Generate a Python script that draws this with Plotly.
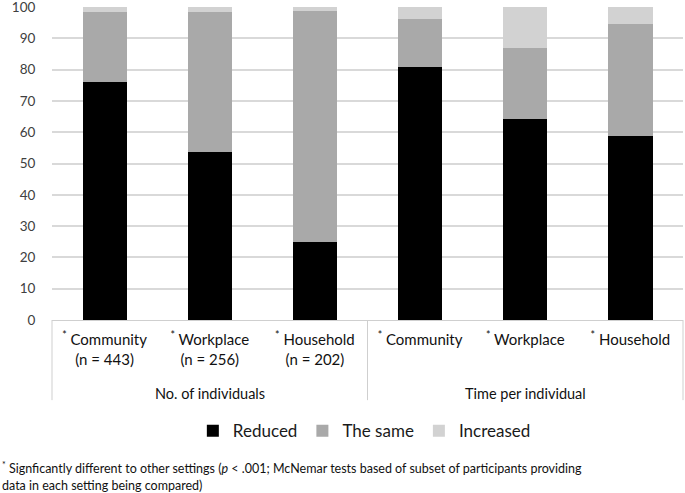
import plotly.graph_objects as go

cat_ids = ["c1", "w1", "h1", "c2", "w2", "h2"]
tick_labels = [
    "<sup>*</sup> Community<br>(n = 443)",
    "<sup>*</sup> Workplace<br>(n = 256)",
    "<sup>*</sup> Household<br>(n = 202)",
    "<sup>*</sup> Community",
    "<sup>*</sup> Workplace",
    "<sup>*</sup> Household",
]
group_labels = ["No. of individuals", "Time per individual"]
group_centers = ["w1", "w2"]
y_ticks = [0, 10, 20, 30, 40, 50, 60, 70, 80, 90, 100]

reduced = [76, 53.6, 25, 80.7, 64.2, 58.8]
the_same = [22.5, 44.8, 73.8, 15.6, 22.8, 35.8]
increased = [1.5, 1.6, 1.2, 3.7, 13.0, 5.4]

FONT = "Lato, 'Open Sans', sans-serif"

fig = go.Figure()
for name, vals, col in [("Reduced", reduced, "#000000"),
                        ("The same", the_same, "#a9a9a9"),
                        ("Increased", increased, "#d2d2d2")]:
    fig.add_trace(go.Bar(x=cat_ids, y=vals, name=name, marker_color=col,
                         marker_line_width=0))

fig.update_layout(
    barmode="stack",
    bargap=0.58,
    width=685, height=493,
    margin=dict(l=52, r=2, t=7, b=173),
    plot_bgcolor="white", paper_bgcolor="white",
    font=dict(family=FONT, size=14, color="#404040"),
    showlegend=True,
    legend=dict(orientation="h", x=0.495, xanchor="center", y=-0.355, yanchor="middle",
                font=dict(size=17, color="#1a1a1a"), traceorder="normal",
                itemwidth=30),
)
fig.update_xaxes(
    type="category", categoryorder="array", categoryarray=cat_ids,
    tickvals=cat_ids, ticktext=tick_labels,
    showline=True, linecolor="#cfcfcf", linewidth=1,
    ticks="outside", ticklen=6, tickcolor="rgba(0,0,0,0)",
    tickfont=dict(size=15, color="#111111"),
    showgrid=False,
)
fig.update_yaxes(
    range=[0, 100], tickvals=y_ticks, showgrid=True,
    gridcolor="#d9d9d9", gridwidth=1.5,
    zeroline=False, ticks="outside", ticklen=13, tickcolor="rgba(0,0,0,0)",
    tickfont=dict(size=13.5, color="#404040"),
    ticklabeloverflow="allow", automargin=False,
)

# group divider lines (left edge, between groups, right edge)
for xv, xr in [(0, "paper"), (2.5, "x"), (1, "paper")]:
    fig.add_shape(type="line", xref=xr, yref="paper", x0=xv, x1=xv, y0=0, y1=-0.256,
                  line=dict(color="#cfcfcf", width=1))

for lab, c in zip(group_labels, group_centers):
    fig.add_annotation(x=c, xref="x", y=-0.235, yref="paper", text=lab, showarrow=False,
                       xanchor="center", yanchor="middle",
                       font=dict(size=14.5, color="#111111"))

fig.add_annotation(
    x=-0.0825, xref="paper", y=-0.498, yref="paper", xanchor="left", yanchor="middle",
    align="left", showarrow=False,
    text="<sup>*</sup> Signficantly different to other settings (<i>p</i> < .001; McNemar tests based of subset of participants providing<br>data in each setting being compared)",
    font=dict(size=12.5, color="#111111"),
)

fig.write_html("out.html", config={"displayModeBar": False},
               post_script="document.body.style.margin='0';")
